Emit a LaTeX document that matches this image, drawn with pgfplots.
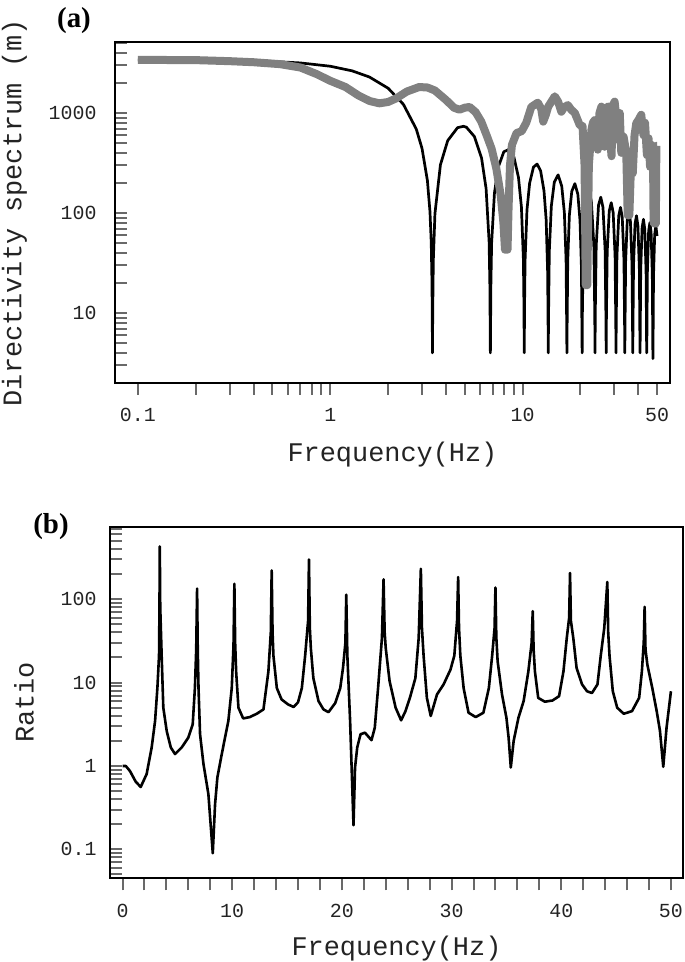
\documentclass[border=0pt]{standalone}
\usepackage{fontspec}
\setmainfont{Liberation Mono}
\newfontfamily\panelfont{Liberation Serif}
\usepackage{pgfplots}
\pgfplotsset{compat=1.18}
\definecolor{curvegray}{RGB}{128,128,128}
\definecolor{tickgray}{RGB}{105,105,105}
\definecolor{txt}{RGB}{35,35,35}

\pgfplotsset{
  panel/.style={
    scale only axis, anchor=north west,
    axis line style={line width=1.8bp, black},
    tick pos=left,
    xtick align=outside, ytick align=inside,
    major tick length=12bp, minor tick length=12bp,
    every tick/.style={tickgray, line width=2bp},
    every major tick/.style={tickgray, line width=2bp},
    every minor tick/.style={tickgray, line width=2bp},
    tick label style={font=\fontsize{20}{20}\selectfont, text=txt},
    xticklabel style={yshift=-10bp},
    label style={font=\fontsize{27}{27}\selectfont, text=txt},
  }
}

\begin{document}
\begin{tikzpicture}
\path[use as bounding box] (0,0) rectangle (685bp,-962bp);

% ---------------- (a) directivity spectrum ----------------
\begin{axis}[panel,
  at={(115bp,-42bp)}, width=555bp, height=341bp,
  xmode=log, ymode=log,
  xmin=0.076, xmax=58.4, ymin=2, ymax=5130,
  xtick={0.1,1,10,50}, xticklabels={0.1,1,10,50},
  minor xtick={0.2,0.3,0.4,0.5,0.6,0.7,0.8,0.9,2,3,4,5,6,7,8,9,20,30,40},
  ytick={10,100,1000}, yticklabels={10,100,1000},
  minor ytick={3,4,5,6,7,8,9,20,30,40,50,60,70,80,90,200,300,400,500,600,700,800,900,2000,3000,4000,5000},
  yticklabel style={xshift=-15bp},
  xlabel={Frequency(Hz)}, ylabel={Directivity spectrum (m)},
  xlabel style={at={(axis description cs:0.5,-0.21)}, anchor=center},
  ylabel style={at={(axis description cs:-0.181,0.5)}, anchor=center},
]
\addplot[black, line width=2.7bp, line join=round] coordinates {
  (0.1,3395)(0.2,3381)(0.3,3356)(0.5,3281)(0.7,3168)(1.0,2937)(1.3,2640)(1.6,2290)
  (2.0,1770)(2.4,1222)(2.8,692)(3.0,443)(3.2,211)(3.3,103)(3.35,50.7)(3.38,20)(3.39,10)(3.4,4)
  (3.41,10.2)(3.434,33.6)(3.502,98.9)(3.74,304)(4.08,530)(4.59,714)(4.93,737)(5.1,722)
  (5.61,584)(6.12,354)(6.46,176)(6.698,51.7)(6.766,17.1)(6.79,5.1)(6.8,4)
  (6.81,5.1)(6.834,16.9)(6.902,50.2)(7.14,159)(7.48,289)(7.99,410)(8.5,433)(9.01,364)
  (9.52,227)(9.86,115)(10.098,34.3)(10.166,11.4)(10.2,4)
  (10.234,11.3)(10.302,33.6)(10.54,108)(10.88,199)(11.39,288)(11.9,309)(12.41,264)
  (12.92,167)(13.26,85.8)(13.498,25.7)(13.566,8.5)(13.6,4)
  (13.634,8.5)(13.77,41.8)(14.11,118)(14.62,204)(15.3,241)(15.98,186)(16.49,101)
  (16.83,34.2)(16.966,6.8)(17.0,4)
  (17.034,6.8)(17.17,33.5)(17.51,95.4)(18.02,165)(18.7,197)(19.38,154)(19.89,84)
  (20.23,28.4)(20.366,5.7)(20.4,4)
  (20.468,11.3)(20.74,54.8)(21.42,139)(22.1,167)(22.78,131)(23.46,48.5)(23.732,9.7)(23.8,4)
  (23.868,9.7)(24.14,47.1)(24.82,120)(25.5,144)(26.18,114)(26.86,42.3)(27.132,8.5)(27.2,4)
  (27.268,8.5)(27.54,41.3)(28.22,105)(28.9,127)(29.58,101)(30.26,37.6)(30.532,7.6)(30.6,4)
  (30.668,7.5)(30.94,36.8)(31.62,94.1)(32.3,114)(32.98,90.3)(33.66,33.8)(33.932,6.8)(34.0,4)
  (34.068,6.8)(34.34,33.1)(35.02,85)(35.7,103)(36.38,81.8)(37.06,30.7)(37.332,6.2)(37.4,4)
  (37.468,6.2)(37.74,30.1)(38.42,77.5)(39.1,94.1)(39.78,74.8)(40.46,28.1)(40.732,5.7)(40.8,4)
  (40.868,5.7)(41.14,27.6)(41.82,71.2)(42.5,86.6)(43.18,68.9)(43.86,25.9)(44.132,5.2)(44.2,4)
  (44.268,5.2)(44.54,25.5)(45.22,65.8)(45.9,80.2)(46.58,63.9)(47.26,24.1)(47.532,4.9)(47.6,3.5)
  (47.668,4.8)(47.94,23.7)(48.62,61.2)(49.3,74.6)(49.98,59.6)(50,59)
};
\addplot[curvegray, line width=8bp, line join=round] coordinates {
  (0.1,3400)(0.2,3380)(0.3,3300)(0.4,3220)(0.55,3080)(0.7,2850)(0.85,2450)(1.0,2100)
  (1.2,1820)(1.4,1500)(1.6,1320)(1.8,1250)(2.0,1290)(2.2,1400)(2.5,1640)(2.9,1820)
  (3.2,1800)(3.5,1680)(4.0,1350)(4.4,1130)(4.7,1080)(5.0,1130)(5.3,1150)(5.7,1020)
  (6.1,820)(6.5,600)(6.9,440)(7.3,280)(7.7,150)(7.95,80)(8.1,43)(8.35,43)(8.45,110)
  (8.6,300)(8.8,480)(9.3,630)(9.9,660)(10.45,800)(11.1,1150)(12.0,1270)(12.5,1100)
  (12.8,820)(13.2,960)(13.6,1160)(14.7,1470)(15.3,1300)(15.9,1030)(16.5,1150)(17.2,1200)
  (17.9,1080)(18.7,1000)(19.8,760)(20.5,740)(21.0,300)(21.3,19)(21.7,19)(22.1,300)
  (22.8,680)(23.2,800)(23.7,850)(24.6,430)(25.1,1000)(25.7,1160)(26.7,460)(27.3,1100)
  (27.8,1160)(28.3,700)(29.0,370)(29.5,1200)(30.1,1300)(30.7,900)(31.3,540)(32.0,1000)
  (32.6,400)(33.5,580)(34.6,400)(35.2,95)(35.9,95)(36.5,250)(37.4,250)(38.2,600)
  (39.0,790)(40.0,850)(41.4,960)(42.5,600)(43.3,800)(44.3,380)(45.2,560)(46.0,290)
  (46.8,480)(47.6,460)(48.0,80)(49.3,78)(49.6,470)(50,470)
};
\end{axis}

% ---------------- (b) ratio ----------------
\begin{axis}[panel,
  at={(110bp,-526.7bp)}, width=573bp, height=351.6bp,
  ymode=log,
  xmin=-1.14, xmax=51.1, ymin=0.045, ymax=740,
  xtick={0,10,20,30,40,50}, xticklabels={0,10,20,30,40,50},
  minor xtick={2,4,6,8,12,14,16,18,22,24,26,28,32,34,36,38,42,44,46,48},
  ytick={0.1,1,10,100}, yticklabels={0.1,1,10,100},
  minor ytick={0.05,0.06,0.07,0.08,0.09,0.2,0.3,0.4,0.5,0.6,0.7,0.8,0.9,2,3,4,5,6,7,8,9,20,30,40,50,60,70,80,90,200,300,400,500,600,700},
  yticklabel style={xshift=-10bp},
  xlabel={Frequency(Hz)}, ylabel={Ratio},
  xlabel style={at={(axis description cs:0.5,-0.2)}, anchor=center},
  ylabel style={at={(axis description cs:-0.150,0.5)}, anchor=center},
]
\addplot[black, line width=2.6bp, line join=round] coordinates {
  (0,1.0)(0.3,1.0)(0.68,0.87)(1.2,0.65)(1.66,0.56)(2.2,0.80)(2.66,1.67)(2.97,3.47)
  (3.18,8.6)(3.33,21)(3.37,80)(3.4,430)(3.44,80)(3.57,21)(3.72,5.0)(4.03,2.63)(4.4,1.67)
  (4.79,1.39)(5.4,1.67)(6.0,2.19)(6.4,3.16)(6.6,8.6)(6.72,25)(6.8,134)(6.86,25)(6.93,8.6)
  (7.07,2.4)(7.38,1.06)(7.83,0.46)(8.23,0.09)(8.44,0.35)(8.65,0.73)(9.05,1.39)(9.65,3.47)
  (9.96,8.6)(10.12,28)(10.2,153)(10.27,30)(10.36,13.6)(10.57,5.0)(11.0,3.72)(11.6,3.86)
  (12.24,4.23)(12.85,4.77)(13.3,13.6)(13.52,40)(13.6,221)(13.68,40)(13.76,21)(14.07,8.6)
  (14.5,6.28)(15.1,5.47)(15.6,5.1)(16.0,5.8)(16.35,8.6)(16.65,21)(16.92,55)(17.0,299)
  (17.08,45)(17.17,25.8)(17.4,11.3)(17.87,6.0)(18.32,4.77)(18.78,4.42)(19.4,5.7)
  (19.85,8.6)(20.1,14.9)(20.32,30)(20.4,113)(20.5,21)(20.75,3.47)(21.06,0.195)(21.2,0.96)
  (21.4,1.67)(21.7,2.4)(22.1,2.51)(22.7,2.04)(23.0,2.88)(23.3,8.6)(23.65,34)(23.8,173)
  (23.9,40)(24.0,25.8)(24.35,10.4)(24.9,5.0)(25.4,3.53)(25.8,4.55)(26.2,6.56)(26.7,11.3)
  (27.0,34)(27.2,232)(27.3,45)(27.45,21)(27.75,6.56)(28.1,3.98)(28.67,7.2)(29.27,9.5)
  (29.9,14.3)(30.25,21)(30.5,55)(30.6,184)(30.68,45)(30.8,21)(31.1,8.6)(31.55,4.35)
  (32.2,3.86)(32.9,4.35)(33.4,8.6)(33.7,21)(33.92,45)(34.0,138)(34.08,35)(34.2,18)
  (34.6,7.2)(35.0,3.8)(35.2,2.19)(35.4,0.96)(35.66,2.0)(36.1,3.8)(36.57,6.0)(37.0,13.6)
  (37.3,30)(37.4,72)(37.48,25)(37.6,13.6)(37.9,6.56)(38.5,5.9)(39.2,6.1)(39.8,6.87)
  (40.2,13.6)(40.5,34)(40.72,60)(40.8,206)(40.88,55)(41.1,34)(41.4,14.9)(41.9,9.5)
  (42.35,7.87)(42.8,7.5)(43.3,9.5)(43.6,21)(43.92,45)(44.2,161)(44.28,40)(44.4,21)
  (44.7,7.87)(45.1,5.0)(45.7,4.23)(46.45,4.55)(47.1,6.56)(47.35,13.6)(47.52,30)(47.6,81)
  (47.68,25)(47.85,16.4)(48.3,8.6)(48.7,4.55)(49.0,2.63)(49.3,0.98)(49.6,2.88)(50.0,7.87)
};
\end{axis}

\node[font=\panelfont\bfseries\fontsize{29}{29}\selectfont, text=black] at (74bp,-21bp) {(a)};
\node[font=\panelfont\bfseries\fontsize{29}{29}\selectfont, text=black] at (51bp,-526.7bp) {(b)};
\end{tikzpicture}
\end{document}
